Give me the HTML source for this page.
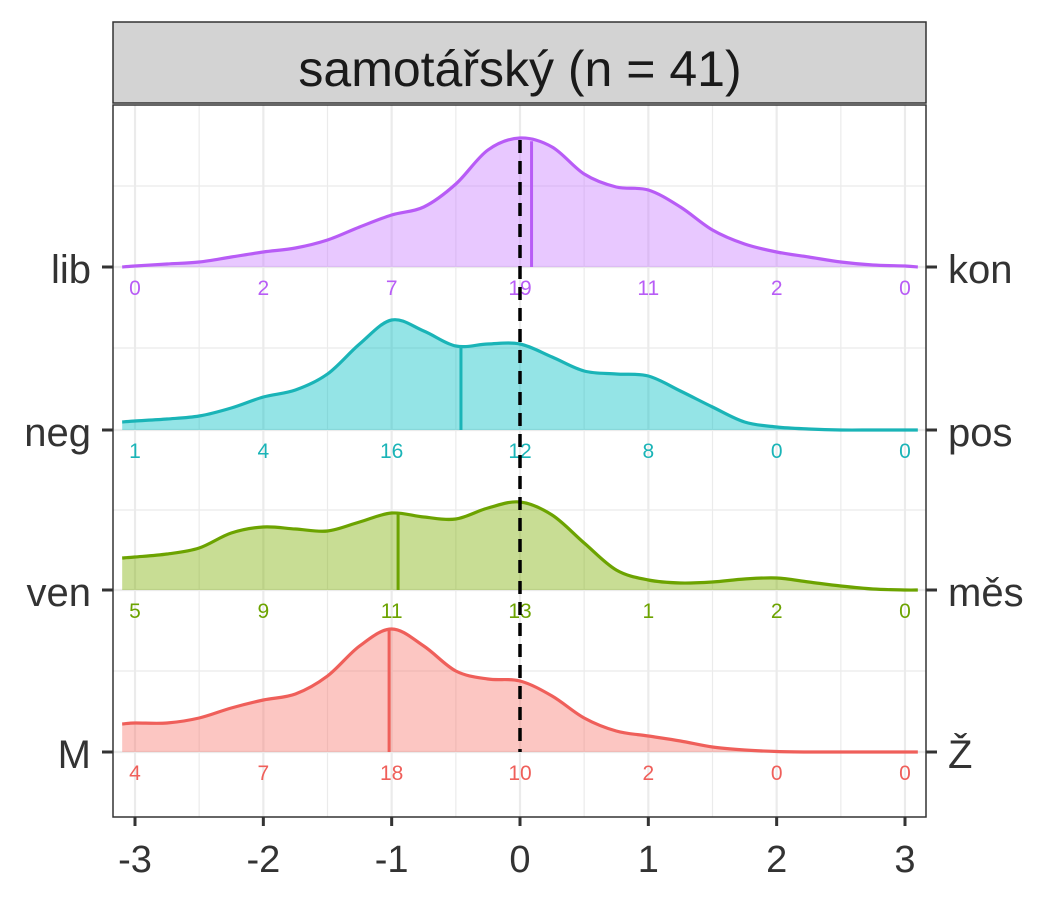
<!DOCTYPE html>
<html><head><meta charset="utf-8"><style>
body{margin:0;background:#fff;}
svg{font-family:"Liberation Sans",sans-serif;}
</style></head><body>
<svg id="chart" width="1050" height="900" xmlns="http://www.w3.org/2000/svg">
<rect x="0" y="0" width="1050" height="900" fill="#fff"/>
<rect x="113" y="22" width="813" height="81" fill="#d3d3d3" stroke="#333" stroke-width="1.5"/>
<text x="520" y="86" font-size="50" text-anchor="middle" fill="#1a1a1a">samotářský (n = 41)</text>
<g id="grid"></g>
<g id="series"></g>
<g id="overlay"></g>
<rect x="113" y="105" width="813" height="712" fill="none" stroke="#333" stroke-width="1.5"/>
<g id="axes"></g>
</svg>
<script>
const gridX = [-3,-2.75,-2.5,-2.25,-2,-1.75,-1.5,-1.25,-1,-0.75,-0.5,-0.25,0,0.25,0.5,0.75,1,1.25,1.5,1.75,2,2.25,2.5,2.75,3];
const leftLabels = ["lib","neg","ven","M"];
const rightLabels = ["kon","pos","měs","Ž"];
const colors = ["#C77CFF","#00BFC4","#7CAE00","#F8766D"];
const lineColors = ["#B85CF6","#1AB4B7","#6CA300","#EF5F5A"];
const densLib = [1,3,5,10,15,19,27,40,52,60,83,117,129,120,93,80,77,60,37,23,15,10,5,2,1];
const densNeg = [9,11,14,22,33,40,56,86,110,99,84,86,86,73,59,56,54,39,23,8,3,1,0,0,0];
const densVen = [33,36,42,57,63,61,59,68,77,73,71,82,88,75,47,20,10,7,8,11,12,8,4,1,0];
const densM = [29,29,34,44,52,58,76,106,123,106,81,73,71,56,34,21,16,11,5,2,0.5,0,0,0,0];
const countLib = [0,2,7,19,11,2,0];
const countNeg = [1,4,16,12,8,0,0];
const countVen = [5,9,11,13,1,2,0];
const countM = [4,7,18,10,2,0,0];
const means = [0.09,-0.46,-0.95,-1.02];
const xTicks = [-3,-2,-1,0,1,2,3];

const dens=[densLib,densNeg,densVen,densM], counts=[countLib,countNeg,countVen,countM];
const baselines=[267,430,590,752];
const X=v=>520+128.33*v;
const NS="http://www.w3.org/2000/svg";
function mk(tag,attrs,parent){const e=document.createElementNS(NS,tag);for(const k in attrs)e.setAttribute(k,attrs[k]);parent.appendChild(e);return e;}
const grid=document.getElementById('grid'),ser=document.getElementById('series'),ov=document.getElementById('overlay'),ax=document.getElementById('axes');
for(let v=-3;v<=3.01;v+=0.5){
  const l=mk('line',{x1:X(v),x2:X(v),y1:105,y2:817,stroke:'#ebebeb','stroke-width':Number.isInteger(v)?2.2:1.2},grid);
  
  
}
[186,267,348,430,510,590,671,752].forEach((y,i)=>{
  const l=mk('line',{x1:113,x2:926,y1:y,y2:y,stroke:'#ebebeb','stroke-width':i%2?2.2:1.2},grid);
  
  
});
function smoothPath(pts){
  let d='M'+pts[0][0]+','+pts[0][1];
  for(let i=0;i<pts.length-1;i++){
    const p0=pts[i-1]||pts[i],p1=pts[i],p2=pts[i+1],p3=pts[i+2]||p2;
    const c1=[p1[0]+(p2[0]-p0[0])/6,p1[1]+(p2[1]-p0[1])/6];
    const c2=[p2[0]-(p3[0]-p1[0])/6,p2[1]-(p3[1]-p1[1])/6];
    d+=` C${c1[0]},${c1[1]} ${c2[0]},${c2[1]} ${p2[0]},${p2[1]}`;
  }
  return d;
}
function interp(arr,v){
  if(v<=gridX[0])return arr[0];if(v>=gridX[gridX.length-1])return arr[arr.length-1];
  for(let i=0;i<gridX.length-1;i++){if(v>=gridX[i]&&v<=gridX[i+1]){const t=(v-gridX[i])/(gridX[i+1]-gridX[i]);return arr[i]+(arr[i+1]-arr[i])*t;}}
}
for(let s=0;s<4;s++){
  const b=baselines[s],c=colors[s],lc=lineColors[s],d=dens[s];
  const pts=[[X(-3.1),b-Math.max(0,d[0]-1)]];
  gridX.forEach((v,i)=>pts.push([X(v),b-d[i]]));
  pts.push([X(3.1),b-Math.max(0,d[d.length-1]-1)]);
  const line=smoothPath(pts);
  const area=mk('path',{d:line+` L${X(3.1)},${b} L${X(-3.1)},${b} Z`,fill:c,'fill-opacity':0.42,stroke:'none'},ser);
  
  
  const ln=mk('path',{d:line,fill:'none',stroke:lc,'stroke-width':3.2},ser);
  
  
  const m=means[s];
  const ml=mk('line',{x1:X(m),x2:X(m),y1:b,y2:b-interp(d,m),stroke:lc,'stroke-width':3},ser);
  
  
  counts[s].forEach((n,i)=>{
    const t=mk('text',{x:X(xTicks[i]),y:b+28,'font-size':21,'text-anchor':'middle',fill:lc},ser);
    t.textContent=n;
    
    
  });
  const tl=mk('line',{x1:102,x2:113,y1:b,y2:b,stroke:'#333','stroke-width':3},ax);
  
  
  const tr=mk('line',{x1:926,x2:937,y1:b,y2:b,stroke:'#333','stroke-width':3},ax);
  
  
  const lt=mk('text',{x:91,y:b+16,'font-size':40,'text-anchor':'end',fill:'#333'},ax);
  lt.textContent=leftLabels[s];
  
  
  const rt=mk('text',{x:948,y:b+16,'font-size':40,'text-anchor':'start',fill:'#333'},ax);
  rt.textContent=rightLabels[s];
  
  
}
const dl=mk('line',{x1:X(0),x2:X(0),y1:140,y2:752,stroke:'#000','stroke-width':3.5,'stroke-dasharray':'13,8'},ov);


xTicks.forEach(v=>{
  const t=mk('line',{x1:X(v),x2:X(v),y1:817,y2:826,stroke:'#333','stroke-width':3},ax);
  
  
  const l=mk('text',{x:X(v),y:872,'font-size':38,'text-anchor':'middle',fill:'#333'},ax);
  l.textContent=v;
  
  
});
</script>
</body></html>
